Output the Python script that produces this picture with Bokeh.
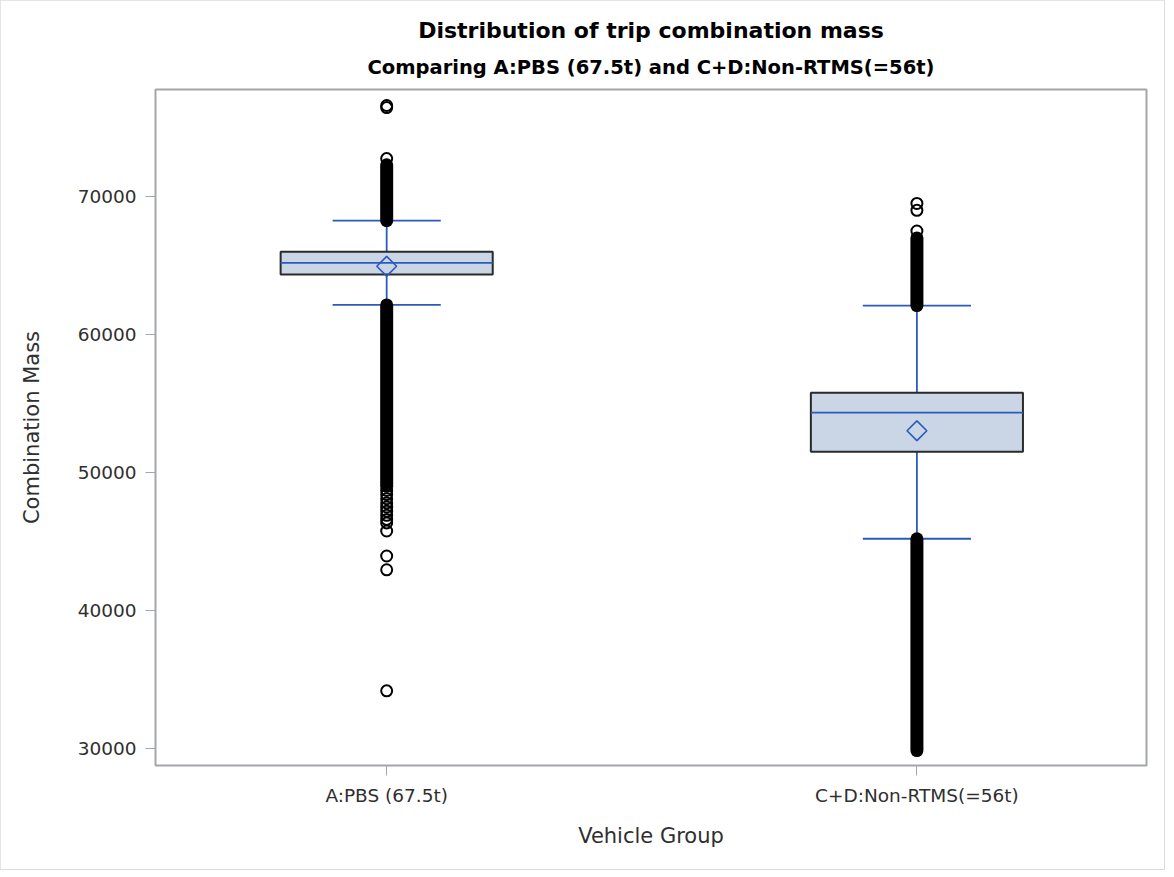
from bokeh.plotting import figure
from bokeh.models import Range1d, FixedTicker, Title, ColumnDataSource
from bokeh.embed import file_html
from bokeh.resources import INLINE

# ---- data ----
categories = ["A:PBS (67.5t)", "C+D:Non-RTMS(=56t)"]
q1 = [64350, 51500]
median = [65200, 54340]
q3 = [66000, 55790]
mean = [64950, 53030]
whisker_low = [62150, 45200]
whisker_high = [68250, 62100]
# ranges where outliers are so dense that their markers merge into a solid column
dense_low_start = [49000, 29850]
dense_low_end = [62150, 45200]
dense_high_start = [68250, 62100]
dense_high_end = [72300, 67000]
# individually visible outliers
outliers_a = [76600, 76450, 72750, 48700, 48400, 48100, 47800, 47500, 47200,
              46900, 46600, 46350, 45760, 43950, 42950, 34180]
outliers_cd = [69500, 69000, 67500]

title_main = "Distribution of trip combination mass"
title_sub = "Comparing A:PBS (67.5t) and C+D:Non-RTMS(=56t)"
x_label = "Vehicle Group"
y_label = "Combination Mass"
y_ticks = [30000, 40000, 50000, 60000, 70000]

pos = list(range(len(categories)))
box_w = 0.40
cap_w = 0.204

BLUE = "#2a5bbb"
FILL = "#cad5e6"
GRAY = "#a3a6aa"
TXT = "#2f2f2f"
FONT = "DejaVu Sans"

p = figure(width=1164, height=869, output_backend="svg", toolbar_location=None,
           x_range=Range1d(-0.436, 1.433), y_range=Range1d(28767, 77759),
           min_border_left=155, min_border_right=18, min_border_top=89,
           min_border_bottom=104)
p.xgrid.visible = False
p.ygrid.visible = False
p.outline_line_color = GRAY
p.outline_line_width = 2
p.background_fill_color = "white"
p.border_fill_color = "white"
p.styles = {"outline": "2px solid #dcdcdc", "outline-offset": "-1px"}

# titles
p.add_layout(Title(text=title_sub, align="center", text_font=FONT,
                   text_font_size="19.5px", text_font_style="bold",
                   text_color="black", standoff=22), "above")
p.add_layout(Title(text=title_main, align="center", text_font=FONT,
                   text_font_size="22px", text_font_style="bold",
                   text_color="black", standoff=0), "above")

src = ColumnDataSource(dict(
    x=pos, q1=q1, q3=q3, med=median, mean=mean,
    wl=whisker_low, wh=whisker_high,
    dls=dense_low_start, dle=dense_low_end,
    dhs=dense_high_start, dhe=dense_high_end,
    bx0=[x - box_w / 2 for x in pos], bx1=[x + box_w / 2 for x in pos],
    cx0=[x - cap_w / 2 for x in pos], cx1=[x + cap_w / 2 for x in pos]))

LW = 1.8
# whiskers
p.segment(x0="x", y0="wl", x1="x", y1="q1", source=src, line_color=BLUE, line_width=LW)
p.segment(x0="x", y0="q3", x1="x", y1="wh", source=src, line_color=BLUE, line_width=LW)
p.segment(x0="cx0", y0="wl", x1="cx1", y1="wl", source=src, line_color=BLUE, line_width=LW)
p.segment(x0="cx0", y0="wh", x1="cx1", y1="wh", source=src, line_color=BLUE, line_width=LW)
# boxes
p.vbar(x="x", bottom="q1", top="q3", width=box_w, source=src, fill_color=FILL,
       line_color="#2a2a2a", line_width=2)
# median lines
p.segment(x0="bx0", y0="med", x1="bx1", y1="med", source=src, line_color=BLUE, line_width=LW)
# mean markers
p.scatter(x="x", y="mean", source=src, marker="square", angle=0.785398, size=14,
          fill_alpha=0, line_color=BLUE, line_width=1.6)

# dense outlier columns
p.segment(x0="x", y0="dls", x1="x", y1="dle", source=src, line_color="black",
          line_width=13, line_cap="round")
p.segment(x0="x", y0="dhs", x1="x", y1="dhe", source=src, line_color="black",
          line_width=13, line_cap="round")
# individual outliers
p.scatter(x=[pos[0]] * len(outliers_a), y=outliers_a, marker="circle", size=11,
          fill_color="white", fill_alpha=0, line_color="black", line_width=2)
p.scatter(x=[pos[1]] * len(outliers_cd), y=outliers_cd, marker="circle", size=11,
          fill_color="white", fill_alpha=0, line_color="black", line_width=2)

# axes
for ax in (p.xaxis[0], p.yaxis[0]):
    ax.axis_line_color = GRAY
    ax.axis_line_width = 1
    ax.major_tick_line_color = GRAY
    ax.major_tick_in = 0
    ax.major_tick_out = 10
    ax.minor_tick_line_color = None
    ax.major_label_text_font = FONT
    ax.major_label_text_font_size = "18.5px"
    ax.major_label_text_color = TXT
    ax.axis_label_text_font = FONT
    ax.axis_label_text_font_size = "21px"
    ax.axis_label_text_font_style = "normal"
    ax.axis_label_text_color = TXT

p.xaxis.ticker = FixedTicker(ticks=pos)
p.xaxis.major_label_overrides = {i: c for i, c in zip(pos, categories)}
p.xaxis.axis_label = x_label
p.xaxis.major_label_standoff = 9
p.xaxis.axis_label_standoff = 15
p.yaxis.ticker = FixedTicker(ticks=y_ticks)
p.yaxis.formatter.use_scientific = False
p.yaxis.axis_label = y_label
p.yaxis.major_label_standoff = 9
p.yaxis.axis_label_standoff = 31

open("out.html", "w").write(file_html(p, INLINE))
